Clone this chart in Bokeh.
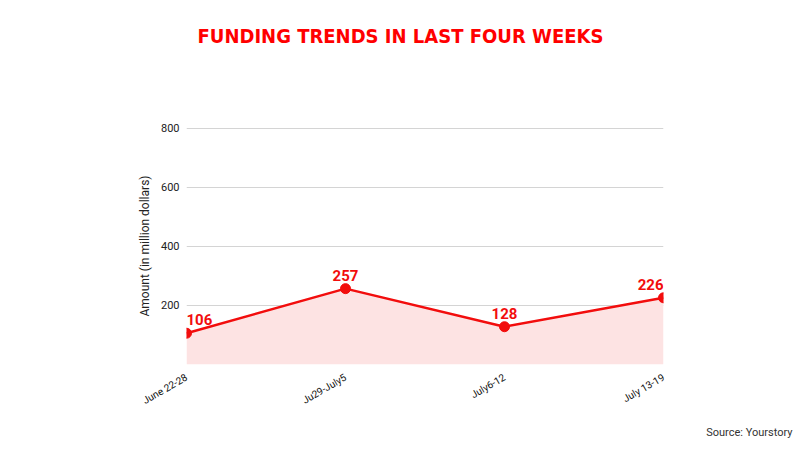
import math
from bokeh.plotting import figure
from bokeh.models import ColumnDataSource, FixedTicker, Range1d, LabelSet, Title
from bokeh.core.properties import value
from bokeh.embed import file_html
from bokeh.resources import INLINE

weeks = ["June 22-28", "Ju29-July5", "July6-12", "July 13-19"]
amounts = [106, 257, 128, 226]
y_ticks = [200, 400, 600, 800]
label_aligns = ["left", "center", "center", "right"]

RED = "#f20d0d"
xs = list(range(len(weeks)))
src = ColumnDataSource(dict(x=xs, y=amounts, lab=[str(a) for a in amounts],
                            align=label_aligns, base=[0] * len(xs)))

p = figure(width=800, height=450, output_backend="svg", toolbar_location=None,
           x_range=Range1d(0, len(weeks) - 1), y_range=Range1d(0, 803),
           min_border_left=186, min_border_right=137, min_border_top=127,
           min_border_bottom=86, title=None)
p.outline_line_color = None
p.background_fill_color = "white"
p.border_fill_color = "white"

p.varea(x="x", y1="base", y2="y", source=src, fill_color="#fde3e3", fill_alpha=1)
p.line(x="x", y="y", source=src, line_color=RED, line_width=2.5)
p.scatter(x="x", y="y", source=src, size=10, fill_color=RED, line_color=RED)

labels = LabelSet(x="x", y="y", text="lab", source=src, text_align="align",
                  y_offset=8, text_color=RED, text_font=value("Roboto"),
                  text_font_style="bold", text_font_size="15px")
p.add_layout(labels)

# axes
p.xaxis.ticker = FixedTicker(ticks=xs)
p.xaxis.major_label_overrides = {i: w for i, w in enumerate(weeks)}
p.xaxis.major_label_orientation = math.pi / 6
p.xaxis.axis_line_color = None
p.xaxis.major_tick_line_color = None
p.xaxis.minor_tick_line_color = None
p.xaxis.major_label_text_font = "Roboto"
p.xaxis.major_label_text_font_size = "10px"
p.xaxis.major_label_text_color = "#111111"
p.xaxis.major_label_standoff = 6
p.xgrid.grid_line_color = None

p.yaxis.ticker = FixedTicker(ticks=y_ticks)
p.yaxis.axis_line_color = None
p.yaxis.major_tick_line_color = None
p.yaxis.minor_tick_line_color = None
p.yaxis.major_label_text_font = "Roboto"
p.yaxis.major_label_text_font_size = "11px"
p.yaxis.major_label_text_color = "#222222"
p.yaxis.major_label_standoff = 1
p.yaxis.axis_label = "Amount (in million dollars)"
p.yaxis.axis_label_text_font = "Roboto"
p.yaxis.axis_label_text_font_style = "normal"
p.yaxis.axis_label_text_font_size = "12px"
p.yaxis.axis_label_text_color = "#222222"
p.yaxis.axis_label_standoff = 6
p.ygrid.grid_line_color = "#d4d4d4"
p.ygrid.grid_line_width = 1

# invisible (white) spacer panel nearest the frame, then the title further out
spacer = Title(text=".", text_color="white", text_font_size="10px", standoff=57)
p.add_layout(spacer, "above")

title = Title(text="FUNDING TRENDS IN LAST FOUR WEEKS", align="left", offset=11,
              text_color="#ff0000", text_font="DejaVu Sans Condensed",
              text_font_style="bold", text_font_size="20px", standoff=26)
p.add_layout(title, "above")

source_title = Title(text="Source: Yourstory", align="right", offset=-129,
                     text_color="#333333", text_font="Roboto",
                     text_font_style="normal", text_font_size="11px", standoff=21)
p.add_layout(source_title, "below")

open("out.html", "w").write(file_html(p, INLINE))
